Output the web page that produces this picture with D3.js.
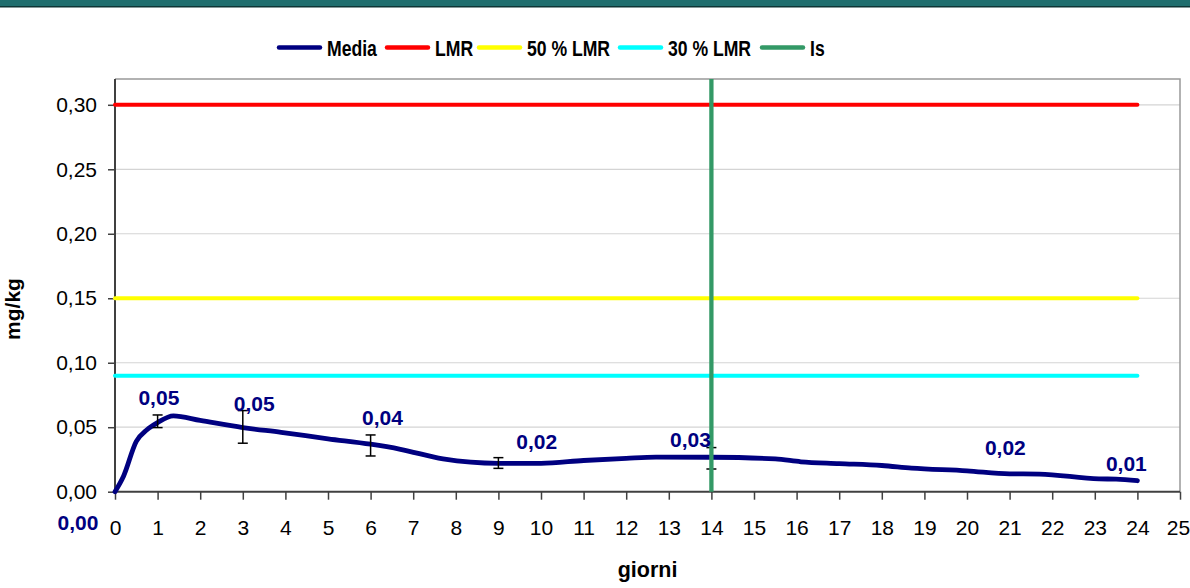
<!DOCTYPE html>
<html><head><meta charset="utf-8">
<script src="https://cdn.jsdelivr.net/npm/d3@7"></script>
<style>body{margin:0;background:#fff}svg{display:block}text{font-family:"Liberation Sans",Arial,sans-serif}</style>
</head><body><svg id="c" width="1190" height="588"></svg>
<script>
// ---- data ----
const mediaDays   = [0, 0.2, 0.5, 0.75, 1, 1.37, 2, 3, 3.9, 5, 6, 6.7, 7.7, 9, 10, 11, 12, 12.7, 14, 15.5, 16.1, 17, 18, 18.7, 20, 21, 21.7, 23.1, 23.5, 24];
const mediaValues = [0, 0.012, 0.039, 0.048, 0.0536, 0.0588, 0.0553, 0.0497, 0.046, 0.041, 0.0368, 0.0329, 0.0254, 0.022, 0.022, 0.0242, 0.0259, 0.0268, 0.0267, 0.0254, 0.0232, 0.0218, 0.0203, 0.0183, 0.0162, 0.0138, 0.0137, 0.0099, 0.0098, 0.0085];
const errDays = [1, 3, 6, 9, 14];
const errLow  = [0.0497, 0.0376, 0.0277, 0.0181, 0.0176];
const errHigh = [0.0595, 0.0629, 0.0440, 0.0264, 0.0342];
const labelText  = ["0,00", "0,05", "0,05", "0,04", "0,02", "0,03", "0,02", "0,01"];
const labelDay   = [-0.87, 1.03, 3.27, 6.28, 9.9, 13.51, 20.9, 23.74];
const labelValue = [-0.0297, 0.0673, 0.0627, 0.0518, 0.0332, 0.0343, 0.0281, 0.0161];
const refNames  = ["LMR", "50 % LMR", "30 % LMR"];
const refValues = [0.30, 0.15, 0.09];
const refEndDay = 24;
const isDay = 14;
const xTicks = d3.range(0, 26);
const yTicks = [0, 0.05, 0.10, 0.15, 0.20, 0.25, 0.30];
const legendNames = ["Media", "LMR", "50 % LMR", "30 % LMR", "Is"];
const colors = {"Media":"#000080", "LMR":"#ff0000", "50 % LMR":"#ffff00", "30 % LMR":"#00ffff", "Is":"#339966"};

// ---- chart ----
const svg = d3.select("#c");
const L = 115, R = 1180, T = 79, B = 491.7;
const x = d3.scaleLinear().domain([0, 25]).range([L, R]);
const y = d3.scaleLinear().domain([0, 0.32]).range([B, T]);
const loc = d3.formatLocale({decimal: ",", thousands: ".", grouping: [3], currency: ["", "€"]});
const fmt = loc.format(".2f");

// banner
svg.append("rect").attr("x", 0).attr("y", 0).attr("width", 1190).attr("height", 6).attr("fill", "#1f6e6e");
svg.append("rect").attr("x", 0).attr("y", 6).attr("width", 1190).attr("height", 1.5).attr("fill", "#0d3535");

// grid
svg.append("g").selectAll("line").data(yTicks.filter(d => d > 0)).join("line")
  .attr("x1", L).attr("x2", R).attr("y1", d => y(d)).attr("y2", d => y(d))
  .attr("stroke", "#d4d4d4").attr("stroke-width", 1.2);

// border top/right
svg.append("path").attr("d", `M${L},${T}H${R}V${B}`).attr("fill", "none").attr("stroke", "#999").attr("stroke-width", 1.5);

// axes
const yAxis = d3.axisLeft(y).tickValues(yTicks).tickSize(7).tickPadding(11).tickFormat(fmt);
const gy = svg.append("g").attr("transform", `translate(${L},0)`).call(yAxis);
const xAxis = d3.axisBottom(x).tickValues(xTicks).tickSize(8).tickPadding(20).tickFormat(d3.format("d"));
const gx = svg.append("g").attr("transform", `translate(0,${B})`).call(xAxis);
[gx, gy].forEach(g => {
  g.select(".domain").attr("stroke", "#404040").attr("stroke-width", 2);
  g.selectAll(".tick line").attr("stroke", "#404040").attr("stroke-width", 1.5);
  g.selectAll(".tick text").attr("font-size", 21).attr("fill", "#000").style("font-family", '"Liberation Sans",Arial,sans-serif');
});
gy.select(".domain").attr("d", `M0,${T}V${B}`);
gx.select(".domain").attr("d", `M${L},0H${R}`);
// keep the last x label inside the page
gx.selectAll(".tick text").filter(d => d === 25).attr("dx", -2);

// reference lines
svg.append("g").selectAll("line").data(refNames).join("line")
  .attr("x1", x(0)).attr("x2", x(refEndDay))
  .attr("y1", (d, i) => y(refValues[i])).attr("y2", (d, i) => y(refValues[i]))
  .attr("stroke", d => colors[d]).attr("stroke-width", 4).attr("stroke-linecap", "round");

// media line
const pts = mediaDays.map((d, i) => [d, mediaValues[i]]);
svg.append("path").datum(pts)
  .attr("d", d3.line().x(d => x(d[0])).y(d => y(d[1])).curve(d3.curveMonotoneX))
  .attr("fill", "none").attr("stroke", colors["Media"]).attr("stroke-width", 4.8).attr("stroke-linecap", "round").attr("stroke-linejoin", "round");

// error bars
const eb = svg.append("g").attr("stroke", "#000").attr("stroke-width", 1.5);
errDays.forEach((d, i) => {
  eb.append("line").attr("x1", x(d)).attr("x2", x(d)).attr("y1", y(errLow[i])).attr("y2", y(errHigh[i]));
  [errLow[i], errHigh[i]].forEach(v => eb.append("line").attr("x1", x(d) - 5).attr("x2", x(d) + 5).attr("y1", y(v)).attr("y2", y(v)));
});

// Is vertical
svg.append("line").attr("x1", x(isDay)).attr("x2", x(isDay)).attr("y1", y(0)).attr("y2", y(0.32))
  .attr("stroke", colors["Is"]).attr("stroke-width", 4.3);

// data labels
svg.append("g").selectAll("text").data(labelText).join("text")
  .attr("x", (d, i) => x(labelDay[i])).attr("y", (d, i) => y(labelValue[i]))
  .attr("text-anchor", "middle").attr("font-size", 21).attr("font-weight", "bold").attr("fill", "#000080")
  .text(d => d);

// axis titles
svg.append("text").attr("x", x(12.5)).attr("y", 577).attr("text-anchor", "middle")
  .attr("font-size", 21.5).attr("font-weight", "bold").text("giorni");
svg.append("text").attr("transform", `translate(20,309) rotate(-90)`).attr("text-anchor", "middle")
  .attr("font-size", 21).attr("font-weight", "bold").text("mg/kg");

// legend
const legX = [277, 385, 477, 618, 760];
const lg = svg.append("g");
legendNames.forEach((n, i) => {
  lg.append("line").attr("x1", legX[i] + 2).attr("x2", legX[i] + 43).attr("y1", 47.5).attr("y2", 47.5)
    .attr("stroke", colors[n]).attr("stroke-width", 4.5).attr("stroke-linecap", "round");
  lg.append("text").attr("transform", `translate(${legX[i] + 50},55.5) scale(0.8,1)`)
    .attr("font-size", 22).attr("font-weight", "bold").text(n);
});
</script></body></html>
